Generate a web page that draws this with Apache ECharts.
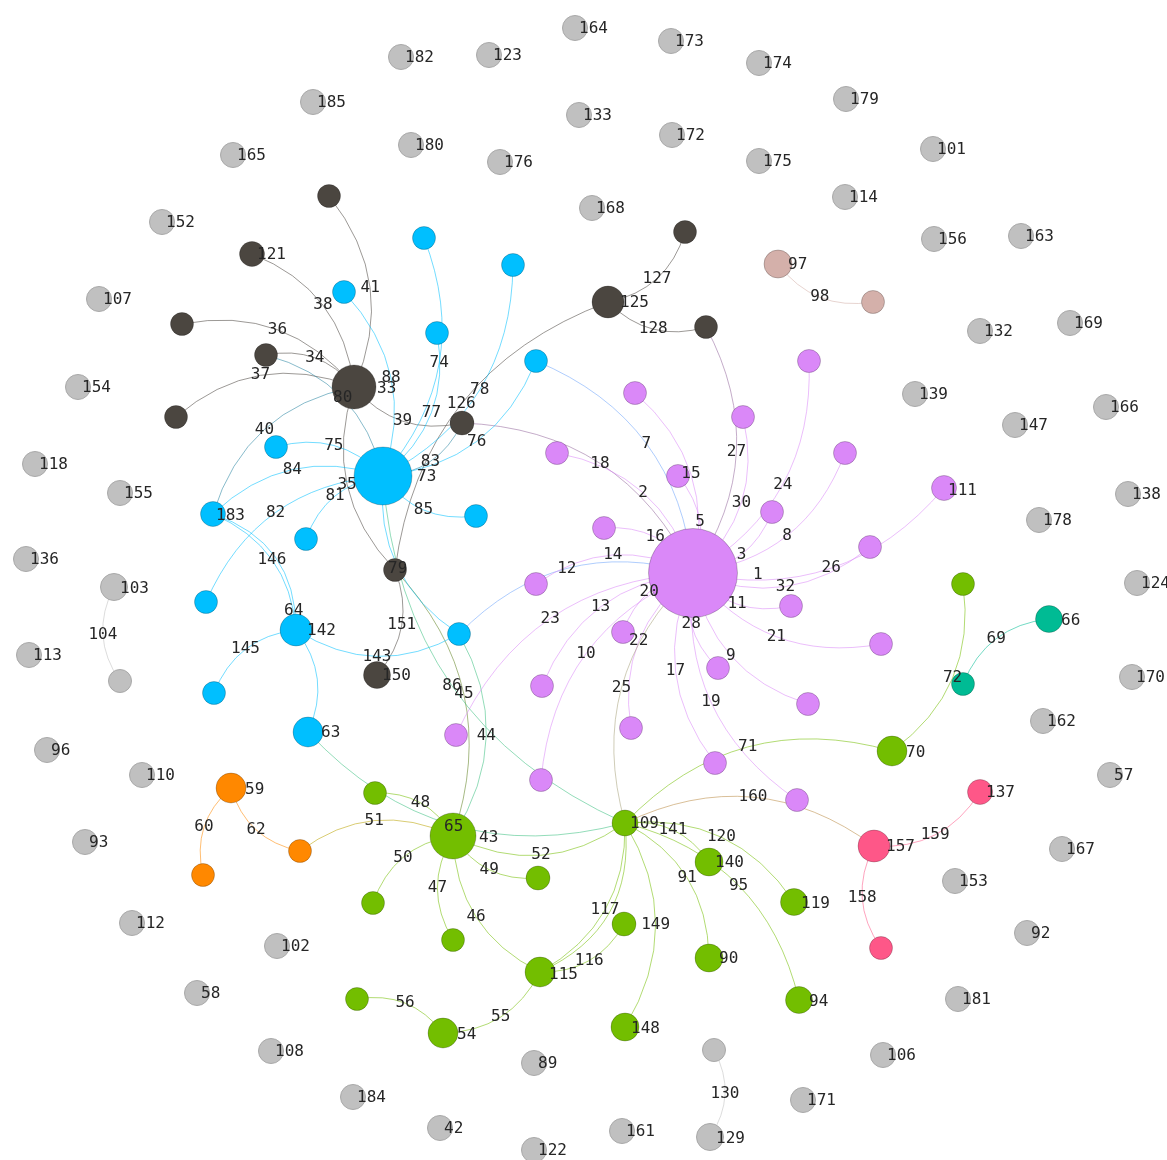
<!DOCTYPE html>
<html><head><meta charset="utf-8">
<script src="https://cdn.jsdelivr.net/npm/echarts@6/dist/echarts.min.js"></script>
<style>html,body{margin:0;padding:0;background:#fff}#c{width:1167px;height:1160px}</style>
</head><body><div id="c"></div>
<script>
// ---------------- DATA ----------------
const categories = ['isolated', 'dark', 'cyan', 'violet', 'green', 'orange', 'teal', 'pink', 'rose'];

// [id, x, y, weight]  (id is also the label when it is a number)
const grayNodes = [
  ['164',575,28,25],['182',401,57,25],['123',489,55,25],['173',671,41,25],['174',759,63,25],
  ['185',313,102,25],['179',846,99,25],['133',579,115,25],['172',672,135,25],['180',411,145,25],
  ['101',933,149,25],['165',233,155,25],['176',500,162,25],['175',759,161,25],['114',845,197,25],
  ['168',592,208,25],['152',162,222,25],['156',934,239,25],['163',1021,236,25],['107',99,299,25],
  ['132',980,331,25],['169',1070,323,25],['154',78,387,25],['139',915,394,25],['166',1106,407,25],
  ['147',1015,425,25],['118',35,464,25],['155',120,493,25],['138',1128,494,25],['178',1039,520,25],
  ['136',26,559,25],['124',1137,583,25],['113',29,655,25],['170',1132,677,25],['162',1043,721,25],
  ['96',47,750,25],['110',142,775,25],['57',1110,775,25],['93',85,842,25],['167',1062,849,25],
  ['153',955,881,25],['112',132,923,25],['102',277,946,25],['92',1027,933,25],['58',197,993,25],
  ['181',958,999,25],['108',271,1051,25],['106',883,1055,25],['89',534,1063,25],['184',353,1097,25],
  ['171',803,1100,25],['42',440,1128,25],['161',622,1131,25],['122',534,1150,25],
  ['103',114,587,27],['g104',120,681,23],['129',710,1137,27],['g130',714,1050,23]
];
const darkNodes = [
  ['d41',329,196,23],['121',252,254,25],['d36',182,324,23],['d34',266,355,23],['d37',176,417,23],
  ['33',354,387,44],['d126',462,423,24],['79',395,570,23],['125',608,302,32],['d127',685,232,23],
  ['d128',706,327,23],['150',377,675,27]
];
const cyanNodes = [
  ['73',383,476,58],['c74',424,238,23],['c78',513,265,23],['c88',344,292,23],['c77',437,333,23],
  ['c76',536,361,23],['c75',276,447,23],['c85',476,516,23],['183',213,514,25],['c81',306,539,23],
  ['c82',206,602,23],['142',296,630,32],['c10',459,634,23],['c145',214,693,23],['63',308,732,30]
];
const violetNodes = [
  ['1',693,573,89],['p15',635,393,23],['p30',743,417,23],['p24',809,361,23],['p2',557,453,23],
  ['p5',678,476,23],['p8',845,453,23],['p3',772,512,23],['111',944,488,25],['p16',604,528,23],
  ['p32',870,547,23],['p14',536,584,23],['p11',791,606,23],['p20',623,632,23],['p21',881,644,23],
  ['p28',718,668,23],['p13',542,686,23],['p9',808,704,23],['p22',631,728,23],['p23',456,735,23],
  ['p17',715,763,23],['p10',541,780,23],['p19',797,800,23]
];
const greenNodes = [
  ['g72',963,584,23],['70',892,751,30],['109',625,823,26],['65',453,836,46],['g48',375,793,23],
  ['g50',373,903,23],['g47',453,940,23],['g49',538,878,24],['140',709,862,28],['119',794,902,27],
  ['g116',624,924,24],['90',709,958,28],['115',540,972,30],['94',799,1000,27],['148',625,1027,28],
  ['54',443,1033,30],['g56',357,999,23]
];
const orangeNodes = [['59',231,788,30],['o62',300,851,23],['o60',203,875,23]];
const tealNodes = [['66',1049,619,27],['t69',963,684,23]];
const pinkNodes = [['157',874,846,32],['137',980,792,25],['k158',881,948,23]];
const roseNodes = [['97',778,264,28],['r98',873,302,23]];

// [source, target, label]
const darkLinks = [
  ['d41','33','41'],['121','33','38'],['d36','33','36'],['d34','33','34'],['d37','33','37'],
  ['d126','33','39'],['79','33','35'],['d127','125','127'],['d128','125','128'],['79','125','126'],
  ['d126','73','83'],['d126','1','18'],['d128','1','27'],['79','150','151'],['79','65','45']
];
const cyanLinks = [
  ['c74','73','74'],['c78','73','78'],['c88','73','88'],['c77','73','77'],['c76','73','76'],
  ['c75','73','75'],['183','73','84'],['c81','73','81'],['c82','73','82'],['c85','73','85'],
  ['d34','73','80'],['183','33','40'],['183','142','146'],['183','142',''],['c145','142','145'],
  ['142','63',''],['c10','142','143'],['c10','73',''],['c10','65','44'],['c10','1','12'],['c76','1','7']
];
const violetLinks = [
  ['p15','1','15'],['p5','1','5'],['p2','1','2'],['p30','1','30'],['p24','1','24'],['p3','1','3'],
  ['p8','1','8'],['111','1','26'],['p32','1','32'],['p11','1','11'],['p21','1','21'],['p9','1','9'],
  ['p28','1','28'],['p19','1','19'],['p17','1','17'],['p22','1','22'],['p20','1','20'],['p10','1','10'],
  ['p13','1','13'],['p23','1','23'],['p14','1','14'],['p16','1','16']
];
const greenLinks = [
  ['109','1','25'],['109','73','86'],['109','63',''],['g72','70','72'],['109','70','71'],
  ['109','157','160'],['g48','65','48'],['o62','65','51'],['g50','65','50'],['g47','65','47'],
  ['115','65','46'],['g49','65','49'],['109','65','52'],['109','140','141'],['109','119','120'],
  ['109','94','95'],['109','90','91'],['109','148','149'],['109','115','117'],['109','115',''],
  ['g116','115','116'],['115','54','55'],['g56','54','56']
];
const otherLinks = [
  ['o60','59','60'],['o62','59','62'],['137','157','159'],['k158','157','158'],['t69','66','69'],
  ['r98','97','98'],['g104','103','104'],['g130','129','130']
];
// labels drawn as two lines next to a node
const twoLineLabels = { '142': ['64', '142'], '65': ['65', '43'] };

// ---------------- STYLE ----------------
const categoryColors = ['#c0c0c0','#4b4640','#00bfff','#da88f8','#73be00','#ff8800','#00bb94','#fe5788','#d4b0aa'];
const FONT = { fontFamily: 'DejaVu Sans Mono', fontSize: 16, color: '#262626' };
const CURVE = 0.3;
const labelNudge = {'121':[6,1],'125':[13,1],'150':[6,1],'79':[-6,-1],'33':[24,2],'73':[35,1],'183':[4,2],
  '63':[14,1],'1':[61,2],'111':[5,3],'97':[11,1],'66':[13,2],'70':[15,2],'137':[7,1],'157':[13,1],
  '119':[8,2],'94':[11,2],'109':[6,1],'140':[7,1],'90':[11,1],'148':[7,2],'115':[10,3],'54':[15,2],
  '59':[15,2],'103':[7,2],'129':[7,2]};
const twoLineStyle = { '142': { dx: -12, dy: -9, lh: 20, pad: 23 }, '65': { dx: -9, dy: -3.5, lh: 11, pad: 35 } };

// ---------------- BUILD ----------------
const groups = [grayNodes, darkNodes, cyanNodes, violetNodes, greenNodes, orangeNodes, tealNodes, pinkNodes, roseNodes];
const nodes = [];
const pos = {}, cat = {};
groups.forEach((arr, ci) => arr.forEach(([id, x, y, w]) => {
  pos[id] = [x, y]; cat[id] = ci;
  const isNum = /^\d+$/.test(id);
  let label = { show: false };
  if (twoLineLabels[id]) {
    const s = twoLineStyle[id];
    label = { show: true, position: 'inside', align: 'left', offset: [s.dx, s.dy],
      formatter: '{a|' + twoLineLabels[id][0] + '}\n{b|' + twoLineLabels[id][1] + '}',
      rich: { a: Object.assign({ lineHeight: s.lh }, FONT), b: Object.assign({ lineHeight: s.lh, padding: [0, 0, 0, s.pad] }, FONT) } };
  } else if (isNum) {
    const n = labelNudge[id] || [5, 1];
    label = Object.assign({ show: true, position: 'inside', align: 'left', verticalAlign: 'middle',
      offset: [n[0] - 1, n[1]], formatter: id }, FONT);
  }
  nodes.push({ id: id, name: id, value: [x, y], symbolSize: w, category: ci, label: label,
    itemStyle: { color: categoryColors[ci], borderColor: ci === 0 ? '#a9a9a9' : 'rgba(0,0,0,0.22)', borderWidth: 1 } });
}));

function hexRgb(h) { const v = parseInt(h.slice(1), 16); return [(v >> 16) & 255, (v >> 8) & 255, v & 255]; }
function mix(a, b) {
  const A = hexRgb(a), B = hexRgb(b);
  return 'rgb(' + A.map((v, i) => Math.round((v + B[i]) / 2)).join(',') + ')';
}
const allLinks = [].concat(darkLinks, cyanLinks, violetLinks, greenLinks, otherLinks);
const seen = {};
const links = [], edgeLabels = [];
allLinks.forEach(([s, t, lab]) => {
  const key = s + '>' + t;
  const c = seen[key] ? CURVE + 0.06 : CURVE;
  seen[key] = true;
  links.push({ source: s, target: t,
    lineStyle: { color: mix(categoryColors[cat[s]], categoryColors[cat[t]]), curveness: c } });
  if (lab) {
    const p1 = pos[s], p2 = pos[t];
    const cp = [(p1[0] + p2[0]) / 2 - (p1[1] - p2[1]) * c, (p1[1] + p2[1]) / 2 - (p2[0] - p1[0]) * c];
    edgeLabels.push([0.25 * p1[0] + 0.5 * cp[0] + 0.25 * p2[0], 0.25 * p1[1] + 0.5 * cp[1] + 0.25 * p2[1], lab]);
  }
});

const chart = echarts.init(document.getElementById('c'));
chart.setOption({
  backgroundColor: '#fff',
  animation: false,
  grid: { left: 0, right: 0, top: 0, bottom: 0 },
  xAxis: { type: 'value', min: 0, max: 1167, show: false },
  yAxis: { type: 'value', min: 0, max: 1160, inverse: true, show: false },
  series: [{
    type: 'graph', layout: 'none', coordinateSystem: 'cartesian2d',
    data: nodes, links: links,
    categories: categories.map((n, i) => ({ name: n, itemStyle: { color: categoryColors[i] } })),
    lineStyle: { width: 1, opacity: 0.55, curveness: CURVE },
    label: { show: false },
    edgeLabel: { show: false },
    emphasis: { disabled: true },
    silent: true, z: 2
  }, {
    type: 'scatter', data: edgeLabels, symbolSize: 0, silent: true, z: 3,
    itemStyle: { color: '#262626', opacity: 1 },
    label: Object.assign({ show: true, position: 'inside', opacity: 1, formatter: p => p.value[2] }, FONT)
  }]
});
</script></body></html>
